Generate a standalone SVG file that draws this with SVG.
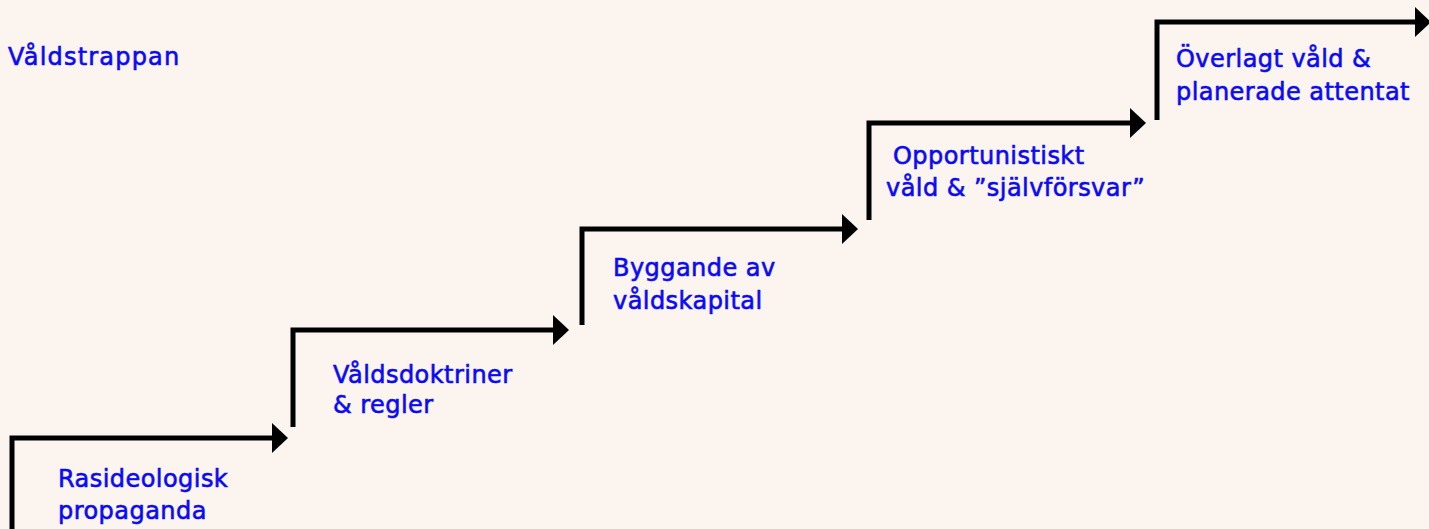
<svg xmlns="http://www.w3.org/2000/svg" width="1429" height="529" viewBox="0 0 1429 529">
<defs>
<style>
.t{font-family:"DejaVu Sans","Liberation Sans",sans-serif;font-weight:normal;font-size:24px;letter-spacing:0.45px;fill:#0a0af5;stroke:#0a0af5;stroke-width:0.6px}
.h{letter-spacing:1.2px}
.c{fill:none;stroke:#000;stroke-width:5;stroke-linejoin:miter}
</style>
<marker id="ah" markerUnits="userSpaceOnUse" viewBox="0 0 16 30" refX="1" refY="15" markerWidth="16" markerHeight="30" orient="auto">
<path d="M0,0 L16,15 L0,30 Z" fill="#000"/>
</marker>
</defs>
<rect width="1429" height="529" fill="#fcf5ef"/>
<g id="title"><text class="t h" x="8" y="65">Våldstrappan</text></g>
<g id="connectors">
<path class="c" d="M12,529 V438 H273" marker-end="url(#ah)"/>
<path class="c" d="M293,427 V330 H554" marker-end="url(#ah)"/>
<path class="c" d="M582,325 V229 H843" marker-end="url(#ah)"/>
<path class="c" d="M869,220 V123 H1131" marker-end="url(#ah)"/>
<path class="c" d="M1157,120 V22 H1416" marker-end="url(#ah)"/>
</g>
<g id="step1"><text class="t" x="58" y="487">Rasideologisk</text><text class="t" x="58" y="519">propaganda</text></g>
<g id="step2"><text class="t" x="333" y="383">Våldsdoktriner</text><text class="t" x="333" y="413">&amp; regler</text></g>
<g id="step3"><text class="t" x="613" y="276">Byggande av</text><text class="t" x="613" y="309">våldskapital</text></g>
<g id="step4"><text class="t" x="893" y="164">Opportunistiskt</text><text class="t" x="886" y="196">våld &amp; ”självförsvar”</text></g>
<g id="step5"><text class="t" x="1176" y="67">Överlagt våld &amp;</text><text class="t" x="1176" y="100">planerade attentat</text></g>
</svg>
